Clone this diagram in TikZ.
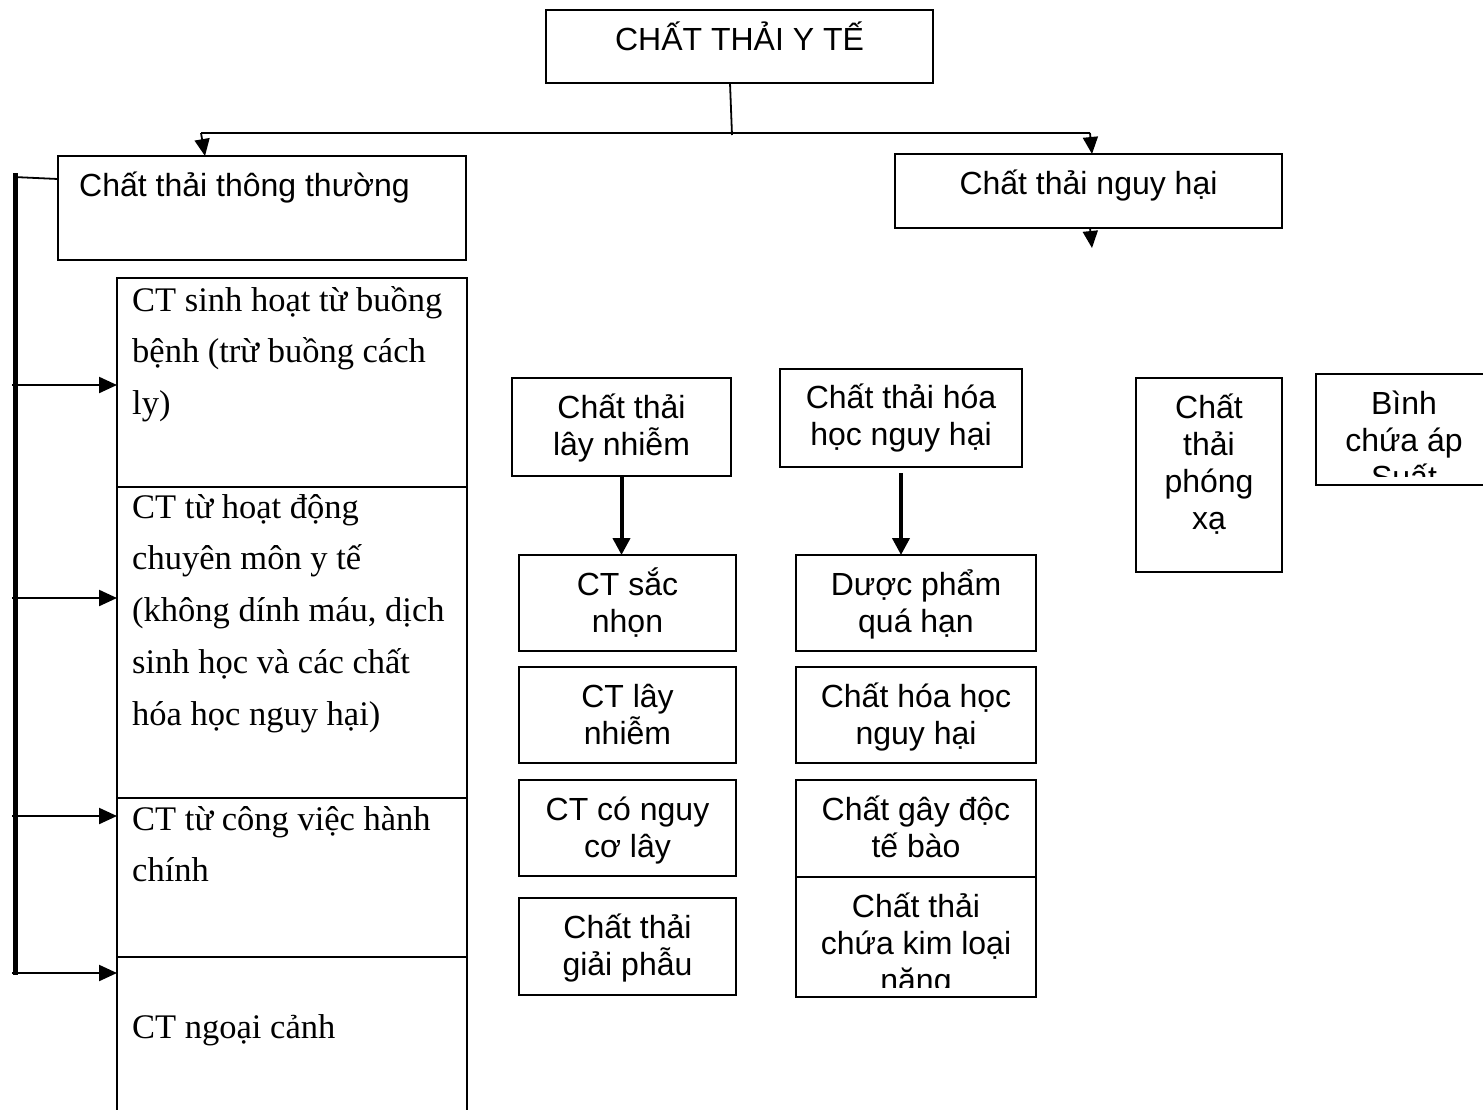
\documentclass[tikz,border=0pt]{standalone}
\usepackage{fontspec}
\setmainfont{Liberation Serif}
\newfontfamily\arialf{Liberation Sans}
\usetikzlibrary{arrows.meta}
\newcommand\ts{\rule{0pt}{32pt}}
\newcommand\tr{\rule{0pt}{34.5pt}}
\tikzset{
  box/.style={draw, line width=1.8pt, inner sep=0pt, outer sep=0pt, anchor=north west},
  sf/.style={font=\arialf\fontsize{32}{37}\selectfont, align=center, inner sep=0pt, anchor=north},
  sfl/.style={font=\arialf\fontsize{32}{37}\selectfont, align=left, inner sep=0pt, anchor=north west},
  rm/.style={font=\fontsize{34.5}{51.7}\selectfont, align=left, inner sep=0pt, anchor=north west},
  ln/.style={line width=1.8pt},
  arr/.style={line width=1.8pt, -{Triangle[length=17pt,width=15pt]}},
  arrL/.style={line width=2.2pt, -{Triangle[length=18pt,width=16pt]}},
  arrT/.style={line width=4pt, -{Triangle[length=17pt,width=17pt]}},
}
\newcommand\bx[6][]{\node[box,minimum width=#5pt,minimum height=#6pt,#1] (#2) at (#3,#4) {};}
\begin{document}
\begin{tikzpicture}[x=1pt,y=-1pt]
\path[use as bounding box, fill=white] (0,0) rectangle (1483,1109);
% boxes
\bx{top}{546}{10}{387}{73}
\bx{tt}{58}{156}{408}{104}
\bx{nh}{895}{154}{387}{74}
\bx[line width=2.2pt]{b1}{117}{278}{350}{209}
\bx[line width=2.2pt]{b2}{117}{487}{350}{311}
\bx[line width=2.2pt]{b3}{117}{798}{350}{159}
\bx[line width=2.2pt]{b4}{117}{957}{350}{160}
\bx{lay}{512}{378}{219}{98}
\bx{hh}{780}{369}{242}{98}
\bx{px}{1136}{378}{146}{194}
\bx{bc}{1316}{374}{176}{111}
\bx[line width=2.2pt]{m1}{519}{555}{217}{96}
\bx[line width=2.2pt]{m2}{519}{667}{217}{96}
\bx[line width=2.2pt]{m3}{519}{780}{217}{96}
\bx[line width=2.2pt]{m4}{519}{898}{217}{97}
\bx[line width=2.2pt]{r1}{796}{555}{240}{96}
\bx[line width=2.2pt]{r2}{796}{667}{240}{96}
\bx[line width=2.2pt]{r3}{796}{780}{240}{97}
\bx[line width=2.2pt]{r4}{796}{877}{240}{120}
% texts
\node[sf] at ([yshift=-8pt]top.north) {\ts CHẤT THẢI Y TẾ};
\node[sfl] at (79,164) {\ts Chất thải thông thường};
\node[sf] at ([yshift=-8pt]nh.north) {\ts Chất thải nguy hại};
\node[rm] at (132,276.5) {\tr CT sinh hoạt từ buồng\\bệnh (trừ buồng cách\\ly)};
\node[rm] at (132,483.5) {\tr CT từ hoạt động\\chuyên môn y tế\\(không dính máu, dịch\\sinh học và các chất\\hóa học nguy hại)};
\node[rm] at (132,795.5) {\tr CT từ công việc hành\\chính};
\node[rm] at (132,1003.5) {\tr CT ngoại cảnh};
\node[sf] at ([yshift=-8pt]lay.north) {\ts Chất thải\\lây nhiễm};
\node[sf] at ([yshift=-7pt]hh.north) {\ts Chất thải hóa\\học nguy hại};
\node[sf] at ([yshift=-8pt]px.north) {\ts Chất\\thải\\phóng\\xạ};
\begin{scope}
  \clip (1316,374) rectangle (1492,476);
  \node[sf] at ([yshift=-8pt]bc.north) {\ts Bình\\chứa áp\\Suất};
\end{scope}
\node[sf] at ([yshift=-8pt]m1.north) {\ts CT sắc\\nhọn};
\node[sf] at ([yshift=-8pt]m2.north) {\ts CT lây\\nhiễm};
\node[sf] at ([yshift=-8pt]m3.north) {\ts CT có nguy\\cơ lây};
\node[sf] at ([yshift=-8pt]m4.north) {\ts Chất thải\\giải phẫu};
\node[sf] at ([yshift=-8pt]r1.north) {\ts Dược phẩm\\quá hạn};
\node[sf] at ([yshift=-8pt]r2.north) {\ts Chất hóa học\\nguy hại};
\node[sf] at ([yshift=-8pt]r3.north) {\ts Chất gây độc\\tế bào};
\begin{scope}
  \clip (796,877) rectangle (1036,987);
  \node[sf] at ([yshift=-8pt]r4.north) {\ts Chất thải\\chứa kim loại\\nặng};
\end{scope}
% connectors
\coordinate (j) at (732,135);
\coordinate (hl) at (201,133);
\coordinate (hr) at (1090,133);
\draw[ln] ([xshift=-9.5pt]top.south) -- (j);
\draw[ln] (hl) -- (hr);
\draw[arr] (hl) -- ([xshift=-57pt]tt.north);
\draw[arr] (hr) -- ([xshift=3.5pt]nh.north);
\coordinate (nhe) at (1092,248);
\draw[arr] ([xshift=1.5pt]nh.south) -- (nhe);
\coordinate (vk) at (14,177);
\coordinate (vt) at (15,173);
\coordinate (vb) at (15,975);
\draw[ln] (vk) -- ([yshift=29pt]tt.west);
\draw[line width=5pt] (vt) -- (vb);
\coordinate (a1) at (12,385);
\coordinate (a2) at (12,598);
\coordinate (a3) at (12,816);
\coordinate (a4) at (12,973);
\draw[arrL] (a1) -- (a1 -| b1.west);
\draw[arrL] (a2) -- (a2 -| b2.west);
\draw[arrL] (a3) -- (a3 -| b3.west);
\draw[arrL] (a4) -- (a4 -| b4.west);
\draw[arrT] (lay.south) -- (lay.south |- m1.north);
\draw[arrT] ([yshift=-6pt]hh.south) -- (hh.south |- r1.north);
\end{tikzpicture}
\end{document}
